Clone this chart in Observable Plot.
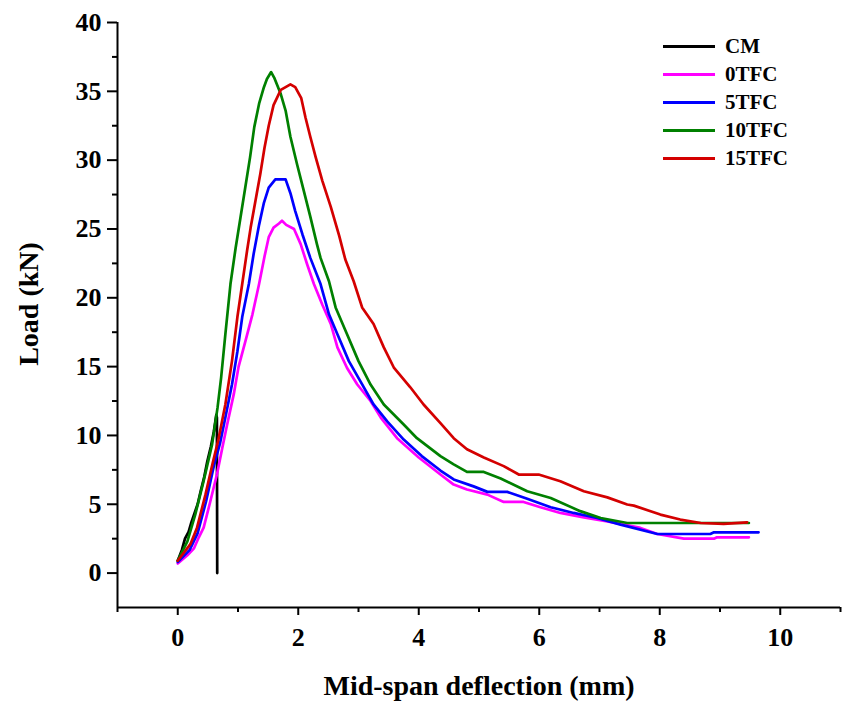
<!DOCTYPE html>
<html>
<head>
<meta charset="utf-8">
<script src="https://cdn.jsdelivr.net/npm/d3@7"></script>
<script src="https://cdn.jsdelivr.net/npm/@observablehq/plot@0.6"></script>
<style>
  body { margin: 0; background: #fff; }
  #wrap { position: relative; width: 845px; height: 703px; }
  #legend { position: absolute; left: 663px; top: 32px; font-family: "Liberation Serif", "Times New Roman", serif; font-weight: bold; font-size: 21px; color: #000; }
  .row { display: flex; align-items: center; height: 28px; }
  .sw { width: 52px; height: 3px; margin-right: 10px; }
</style>
</head>
<body>
<div id="wrap"><div id="legend"></div></div>
<script>
// Series: [deflection (mm), load (kN)]
const cm = [[0,0.9],[0.07,1.7],[0.12,2.5],[0.18,3.0],[0.22,3.6],[0.27,4.25],[0.33,5.0],[0.38,5.95],[0.44,7.0],[0.49,8.1],[0.55,9.2],[0.60,10.3],[0.64,11.5],[0.65,11.3],[0.655,0]];
const tfc0 = [[0,0.7],[0.16,1.3],[0.27,1.8],[0.35,2.6],[0.43,3.3],[0.54,5.2],[0.65,7.16],[0.74,9.1],[0.82,10.8],[0.93,13.0],[1.01,15.0],[1.12,16.8],[1.24,18.8],[1.35,21.0],[1.44,23.0],[1.51,24.4],[1.59,25.1],[1.68,25.4],[1.73,25.6],[1.8,25.3],[1.93,25.0],[2.04,23.9],[2.15,22.4],[2.26,21.0],[2.40,19.5],[2.54,18.1],[2.65,16.4],[2.81,14.9],[2.98,13.7],[3.2,12.5],[3.37,11.3],[3.64,9.8],[4.0,8.4],[4.36,7.16],[4.58,6.43],[4.80,6.07],[5.14,5.7],[5.41,5.17],[5.74,5.17],[6.02,4.78],[6.35,4.37],[6.74,4.05],[7.13,3.76],[7.68,3.28],[7.96,2.84],[8.4,2.5],[8.9,2.5],[8.95,2.6],[9.48,2.6]];
const tfc5 = [[0,0.8],[0.2,1.7],[0.33,2.9],[0.47,5.2],[0.6,7.8],[0.70,9.4],[0.79,11.3],[0.90,13.7],[0.99,16.1],[1.07,18.6],[1.18,21.0],[1.26,23.2],[1.35,25.3],[1.43,26.9],[1.51,28.0],[1.62,28.6],[1.79,28.6],[1.87,27.6],[1.95,26.3],[2.07,24.6],[2.20,22.9],[2.37,21.0],[2.51,18.8],[2.65,17.35],[2.84,15.4],[3.03,13.95],[3.25,12.25],[3.48,11.0],[3.75,9.7],[4.05,8.5],[4.36,7.45],[4.58,6.8],[4.91,6.3],[5.14,5.9],[5.47,5.9],[5.80,5.4],[6.19,4.78],[6.57,4.37],[6.96,4.0],[7.35,3.52],[7.96,2.84],[8.84,2.84],[8.9,2.96],[9.64,2.96]];
const tfc10 = [[0,0.9],[0.16,2.3],[0.29,4.25],[0.43,6.7],[0.57,9.35],[0.66,12.0],[0.72,14.2],[0.79,17.35],[0.875,21.0],[0.96,23.6],[1.04,25.8],[1.12,28.0],[1.2,30.2],[1.27,32.4],[1.35,34.1],[1.43,35.3],[1.48,35.9],[1.55,36.4],[1.6,36.0],[1.71,34.8],[1.79,33.6],[1.87,31.7],[1.98,29.7],[2.09,27.8],[2.20,25.9],[2.31,23.9],[2.37,22.9],[2.51,21.2],[2.62,19.3],[2.81,17.35],[3.0,15.4],[3.2,13.7],[3.42,12.25],[3.75,10.8],[3.97,9.8],[4.36,8.5],[4.58,7.9],[4.80,7.35],[5.08,7.35],[5.36,6.87],[5.80,5.95],[6.19,5.46],[6.68,4.5],[7.02,4.0],[7.46,3.64],[9.48,3.64]];
const tfc15 = [[0,0.9],[0.21,2.1],[0.32,3.3],[0.46,5.7],[0.58,8.0],[0.67,9.6],[0.79,12.25],[0.90,15.4],[0.99,18.6],[1.07,21.0],[1.15,23.4],[1.21,25.1],[1.29,27.05],[1.37,29.0],[1.44,30.9],[1.51,32.5],[1.59,34.0],[1.71,35.1],[1.87,35.5],[1.95,35.3],[2.05,34.5],[2.12,33.1],[2.20,31.7],[2.29,30.2],[2.40,28.5],[2.54,26.6],[2.68,24.5],[2.78,22.8],[2.92,21.2],[3.06,19.3],[3.25,18.1],[3.42,16.4],[3.59,14.9],[3.86,13.5],[4.08,12.25],[4.36,10.9],[4.58,9.8],[4.80,9.0],[5.08,8.4],[5.41,7.77],[5.66,7.16],[5.99,7.16],[6.35,6.67],[6.74,5.95],[7.13,5.5],[7.46,4.98],[7.57,4.9],[8.01,4.25],[8.34,3.89],[8.68,3.64],[9.06,3.57],[9.45,3.69]];

const seriesNames = ["CM", "0TFC", "5TFC", "10TFC", "15TFC"];
const seriesData = [cm, tfc0, tfc5, tfc10, tfc15];
const seriesColors = ["#000000", "#ff00ff", "#0000ff", "#008000", "#d40000"];

const xMajor = [0, 2, 4, 6, 8, 10];
const xMinor = [-1, 1, 3, 5, 7, 9, 11];
const yMajor = [0, 5, 10, 15, 20, 25, 30, 35, 40];
const yMinor = [2.5, 7.5, 12.5, 17.5, 22.5, 27.5, 32.5, 37.5];
const xDomain = [-1, 11];
const yDomain = [-2.5, 40];
const xTitle = "Mid-span deflection (mm)";
const yTitle = "Load (kN)";

const font = "'Liberation Serif', 'Times New Roman', serif";

const lineMarks = seriesData.map((d, i) =>
  Plot.line(d, {x: p => p[0], y: p => p[1], stroke: seriesColors[i], strokeWidth: 2.7, strokeLinejoin: "round", curve: "linear"})
);

const chart = Plot.plot({
  width: 845,
  height: 703,
  marginLeft: 117,
  marginRight: 5,
  marginTop: 22,
  marginBottom: 96,
  style: {fontFamily: font, fontWeight: "bold", color: "#000", background: "#fff", overflow: "visible"},
  x: {domain: xDomain},
  y: {domain: yDomain},
  marks: [
    ...lineMarks,
    Plot.axisY(yMajor, {tickSize: 10, tickPadding: 6, fontSize: 26, strokeWidth: 2, label: null}),
    Plot.axisY(yMinor, {tickSize: 5, text: null, strokeWidth: 2, label: null}),
    Plot.axisX(xMajor, {tickSize: 8, tickPadding: 12, fontSize: 26, strokeWidth: 2, label: null}),
    Plot.axisX(xMinor, {tickSize: 5, text: null, strokeWidth: 2, label: null}),
    Plot.text([xTitle], {text: d => d, frameAnchor: "bottom", dy: 79, fontSize: 28, lineAnchor: "middle", textAnchor: "middle"}),
    Plot.text([yTitle], {text: d => d, frameAnchor: "left", dx: -88, dy: -11, rotate: -90, fontSize: 28, lineAnchor: "middle", textAnchor: "middle"}),
    Plot.ruleX([xDomain[0]], {strokeWidth: 2}),
    Plot.ruleY([yDomain[0]], {strokeWidth: 2})
  ]
});
document.getElementById("wrap").prepend(chart);

const legend = document.getElementById("legend");
seriesNames.forEach((n, i) => {
  const row = document.createElement("div");
  row.className = "row";
  const sw = document.createElement("div");
  sw.className = "sw";
  sw.style.background = seriesColors[i];
  const t = document.createElement("span");
  t.textContent = n;
  row.appendChild(sw);
  row.appendChild(t);
  legend.appendChild(row);
});
</script>
</body>
</html>
